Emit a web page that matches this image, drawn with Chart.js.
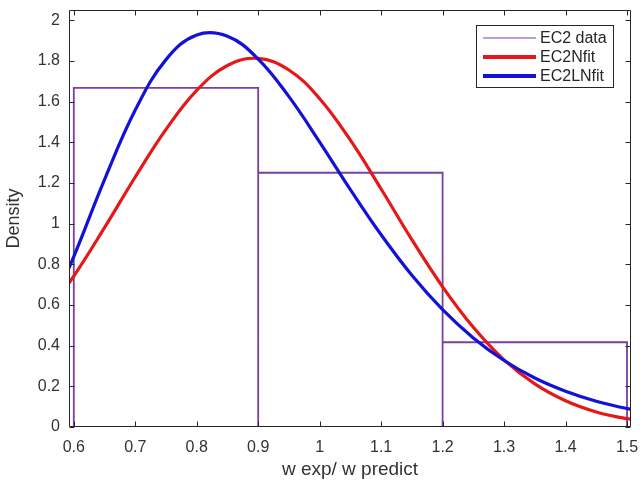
<!DOCTYPE html>
<html>
<head>
<meta charset="utf-8">
<script src="https://cdn.jsdelivr.net/npm/chart.js@4/dist/chart.umd.min.js"></script>
<style>
  html, body { margin: 0; padding: 0; background: #fff; }
  #wrap { width: 641px; height: 482px; }
</style>
</head>
<body>
<div id="wrap"><canvas id="histChart"></canvas></div>
<script>
// histogram of w exp / w predict (density normalised)
const binEdges = [0.6, 0.9, 1.2, 1.5];
const binDensity = [1.6667, 1.25, 0.4167];

// fitted curves, sampled every 0.05 (ends run past the axes and get clipped)
const fitX = [0.55, 0.6, 0.65, 0.7, 0.75, 0.8, 0.85, 0.9, 0.95, 1.0, 1.05,
              1.1, 1.15, 1.2, 1.25, 1.3, 1.35, 1.4, 1.45, 1.5, 1.55];
const normalFit = [0.534, 0.742, 0.980, 1.229, 1.463, 1.655, 1.777, 1.812, 1.755, 1.614, 1.410,
                   1.170, 0.921, 0.689, 0.490, 0.330, 0.212, 0.129, 0.074, 0.041, 0.021];
const lognormalFit = [0.494, 0.838, 1.216, 1.558, 1.806, 1.927, 1.921, 1.809, 1.624, 1.401, 1.167,
                      0.945, 0.746, 0.577, 0.438, 0.327, 0.241, 0.176, 0.127, 0.091, 0.064];

const xTicks = [0.6, 0.7, 0.8, 0.9, 1.0, 1.1, 1.2, 1.3, 1.4, 1.5];
const yTicks = [0, 0.2, 0.4, 0.6, 0.8, 1.0, 1.2, 1.4, 1.6, 1.8, 2.0];

const PURPLE = '#7A3FA6';
const RED = 'rgb(228,24,24)';
const BLUE = 'rgb(18,18,215)';
const FONT = '"Liberation Sans", Arial, sans-serif';

// outline of the histogram bars as one path
const histPath = [];
for (let i = 0; i < binDensity.length; i++) {
    const l = binEdges[i], r = binEdges[i + 1], h = binDensity[i];
    histPath.push({x: l, y: 0}, {x: l, y: h}, {x: r, y: h}, {x: r, y: 0});
}

const pairs = (xs, ys) => xs.map((x, i) => ({x: x, y: ys[i]}));

const legendItems = [
    {label: 'EC2 data', color: PURPLE, width: 1},
    {label: 'EC2Nfit', color: RED, width: 4},
    {label: 'EC2LNfit', color: BLUE, width: 4}
];

// MATLAB-style box with inward ticks on all four sides, plus the legend
const frame = {
    id: 'frame',
    afterDraw(chart) {
        const ctx = chart.ctx;
        const a = chart.chartArea;
        const xs = chart.scales.x, ys = chart.scales.y;
        const L = Math.round(a.left) + 0.5, R = Math.round(a.right) - 0.5;
        const T = Math.round(a.top) + 0.5, B = Math.round(a.bottom) - 0.5;
        ctx.save();
        ctx.strokeStyle = '#262626';
        ctx.lineWidth = 1;
        ctx.beginPath();
        ctx.rect(L, T, R - L, B - T);
        xTicks.forEach(v => {
            const px = Math.round(xs.getPixelForValue(v)) + 0.5;
            ctx.moveTo(px, B); ctx.lineTo(px, B - 5);
            ctx.moveTo(px, T); ctx.lineTo(px, T + 5);
        });
        yTicks.forEach(v => {
            const py = Math.round(ys.getPixelForValue(v)) + 0.5;
            ctx.moveTo(L, py); ctx.lineTo(L + 5, py);
            ctx.moveTo(R, py); ctx.lineTo(R - 5, py);
        });
        ctx.stroke();

        // legend box
        const bx = 476.5, by = 25.5, bw = 137, bh = 62;
        ctx.fillStyle = '#fff';
        ctx.fillRect(bx, by, bw, bh);
        ctx.strokeStyle = '#262626';
        ctx.strokeRect(bx, by, bw, bh);
        ctx.font = '16px ' + FONT;
        ctx.textBaseline = 'middle';
        ctx.textAlign = 'left';
        legendItems.forEach((it, i) => {
            const y = 38 + i * 19;
            ctx.strokeStyle = it.color;
            ctx.lineWidth = it.width;
            ctx.beginPath();
            ctx.moveTo(483, y); ctx.lineTo(536, y);
            ctx.stroke();
            ctx.fillStyle = '#262626';
            ctx.fillText(it.label, 540, y + 1);
        });
        ctx.restore();
    }
};

// fixed axis box: no extra room for overhanging end labels
const noOverhang = s => {
    s.paddingTop = 0; s.paddingBottom = 0;
    s.paddingLeft = 0; s.paddingRight = 0;
};

const ctx = document.getElementById('histChart').getContext('2d');
new Chart(ctx, {
    type: 'line',
    data: {
        datasets: [
            {
                label: 'EC2 data',
                data: histPath,
                borderColor: PURPLE,
                borderWidth: 1.8,
                pointRadius: 0,
                tension: 0,
                fill: false,
                order: 3
            },
            {
                label: 'EC2Nfit',
                data: pairs(fitX, normalFit),
                borderColor: RED,
                borderWidth: 3.2,
                pointRadius: 0,
                tension: 0.4,
                fill: false,
                order: 2
            },
            {
                label: 'EC2LNfit',
                data: pairs(fitX, lognormalFit),
                borderColor: BLUE,
                borderWidth: 3.2,
                pointRadius: 0,
                tension: 0.4,
                fill: false,
                order: 1
            }
        ]
    },
    options: {
        responsive: true,
        maintainAspectRatio: false,
        animation: false,
        layout: {padding: {left: 0, right: 10, top: 10, bottom: 0}},
        plugins: {
            legend: {display: false},
            tooltip: {enabled: false}
        },
        scales: {
            x: {
                type: 'linear',
                min: 0.5922,
                max: 1.5065,
                grid: {display: false, drawTicks: false},
                border: {display: false},
                afterBuildTicks: s => { s.ticks = xTicks.map(v => ({value: v})); },
                afterFit: s => { s.height = 55; noOverhang(s); },
                ticks: {
                    color: '#333',
                    font: {family: FONT, size: 16},
                    padding: 11,
                    maxRotation: 0,
                    callback: v => String(+v.toFixed(1))
                },
                title: {
                    display: true,
                    text: 'w exp/ w predict',
                    color: '#333',
                    font: {family: FONT, size: 19},
                    padding: {top: 0, bottom: 1}
                }
            },
            y: {
                min: 0,
                max: 2.05,
                grid: {display: false, drawTicks: false},
                border: {display: false},
                afterBuildTicks: s => { s.ticks = yTicks.map(v => ({value: v})); },
                afterFit: s => { s.width = 69; noOverhang(s); },
                ticks: {
                    color: '#333',
                    font: {family: FONT, size: 16},
                    padding: 9,
                    callback: v => String(+v.toFixed(1))
                },
                title: {
                    display: true,
                    text: 'Density',
                    color: '#333',
                    font: {family: FONT, size: 18},
                    padding: {top: 3, bottom: 0}
                }
            }
        }
    },
    plugins: [frame]
});
</script>
</body>
</html>
